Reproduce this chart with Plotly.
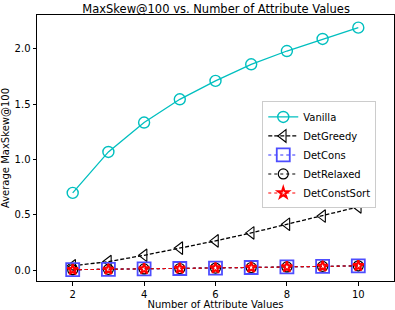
import plotly.graph_objects as go

x_values = [2, 3, 4, 5, 6, 7, 8, 9, 10]
vanilla = [0.698, 1.068, 1.333, 1.543, 1.709, 1.859, 1.979, 2.088, 2.19]
det_greedy = [0.04, 0.078, 0.135, 0.2, 0.265, 0.337, 0.415, 0.489, 0.572]
det_cons = [0.005, 0.008, 0.012, 0.016, 0.02, 0.025, 0.03, 0.035, 0.04]
det_relaxed = [0.005, 0.008, 0.012, 0.016, 0.02, 0.025, 0.03, 0.035, 0.04]
det_const_sort = [0.005, 0.008, 0.012, 0.016, 0.02, 0.025, 0.03, 0.035, 0.04]
y_ticks = [0.0, 0.5, 1.0, 1.5, 2.0]
x_ticks = [2, 4, 6, 8, 10]

FONT = "DejaVu Sans"

fig = go.Figure()
fig.add_trace(go.Scatter(
    x=x_values, y=vanilla, name="Vanilla", mode="lines+markers",
    line=dict(color="#00bfbf", width=1.3, dash="solid"),
    marker=dict(symbol="circle-open", size=11, color="#00bfbf", line=dict(width=1.4)),
))
fig.add_trace(go.Scatter(
    x=x_values, y=det_greedy, name="DetGreedy", mode="lines+markers",
    line=dict(color="black", width=1.3, dash="4px,2px"),
    marker=dict(symbol="triangle-left-open", size=11, color="black", line=dict(width=1.1)),
))
fig.add_trace(go.Scatter(
    x=x_values, y=det_cons, name="DetCons", mode="lines+markers",
    line=dict(color="#3333ff", width=1.1, dash="dot"),
    marker=dict(symbol="square-open", size=13, color="#4d4dff", line=dict(width=1.8)),
))
fig.add_trace(go.Scatter(
    x=x_values, y=det_relaxed, name="DetRelaxed", mode="lines+markers",
    line=dict(color="black", width=1.1, dash="dot"),
    marker=dict(symbol="circle-open", size=10, color="black", line=dict(width=1.2)),
))
fig.add_trace(go.Scatter(
    x=x_values, y=det_const_sort, name="DetConstSort", mode="lines+markers",
    line=dict(color="red", width=1.1, dash="dot"),
    marker=dict(symbol="star-open", size=8, color="red", line=dict(width=2)),
))

fig.update_layout(
    width=395, height=310,
    margin=dict(l=37, r=1, t=15, b=29, autoexpand=False),
    paper_bgcolor="white", plot_bgcolor="white",
    font=dict(family=FONT, size=10, color="black"),
    title=dict(text="MaxSkew@100 vs. Number of Attribute Values", x=0.547, xanchor="center",
               yref="container", y=0.972, yanchor="middle",
               font=dict(size=11.5, family=FONT, color="black")),
    showlegend=True,
    legend=dict(x=0.631, y=0.675, xanchor="left", yanchor="top",
                bgcolor="white", bordercolor="#cccccc", borderwidth=1,
                font=dict(size=10, family=FONT), tracegroupgap=0),
)
fig.update_xaxes(
    range=[1, 11], tickvals=x_ticks, ticktext=[str(v) for v in x_ticks], automargin=False,
    showgrid=False, zeroline=False, showline=True, linecolor="black", linewidth=1,
    mirror=True, ticks="outside", ticklen=3.5, tickcolor="black",
    title=dict(text="Number of Attribute Values", standoff=3, font=dict(size=10, family=FONT)),
)
fig.update_yaxes(
    range=[-0.097, 2.304], tickvals=y_ticks, ticktext=[f"{v:.1f}" for v in y_ticks], automargin=False,
    showgrid=False, zeroline=False, showline=True, linecolor="black", linewidth=1,
    mirror=True, ticks="outside", ticklen=3.5, tickcolor="black",
    title=dict(text="Average MaxSkew@100", standoff=3, font=dict(size=10, family=FONT)),
)

fig.write_html(
    "out.html",
    config={"displayModeBar": False},
    post_script="document.body.style.margin='0';document.body.style.padding='0';document.body.style.overflow='hidden';",
)
